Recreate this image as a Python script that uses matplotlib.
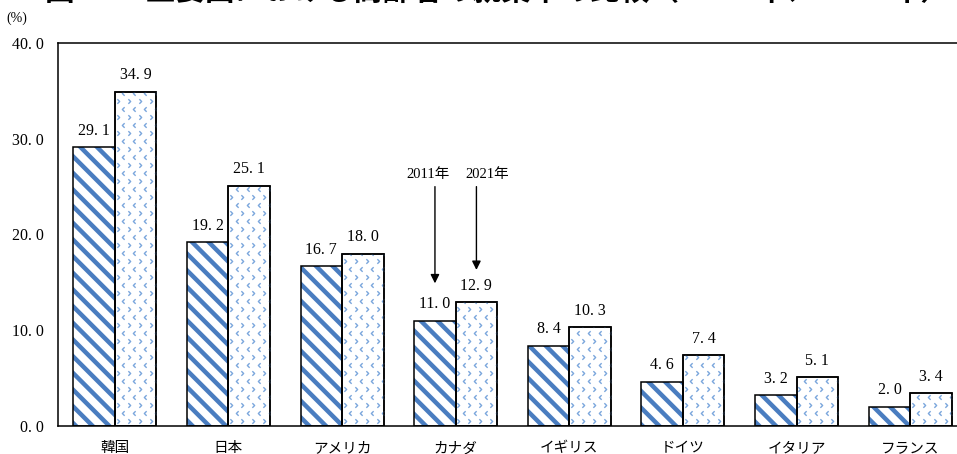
import matplotlib
matplotlib.use('Agg')
import matplotlib.pyplot as plt
import numpy as np
from matplotlib.path import Path

# --- data -------------------------------------------------------------
countries = ['韓国', '日本', 'アメリカ', 'カナダ', 'イギリス', 'ドイツ', 'イタリア', 'フランス']
rate_2011 = [29.1, 19.2, 16.7, 11.0, 8.4, 4.6, 3.2, 2.0]
rate_2021 = [34.9, 25.1, 18.0, 12.9, 10.3, 7.4, 5.1, 3.4]
y_ticks = [0, 10, 20, 30, 40]
series_labels = ['2011年', '2021年']
title_text = '図 12　主要国における高齢者の就業率の比較（2011 年、2021 年）'
unit_text = '(%)'

# --- style ------------------------------------------------------------
SERIF = ['Liberation Serif', 'Noto Sans CJK JP']
JP = ['Noto Sans CJK JP', 'DejaVu Sans']
STRIPE = '#4a7dc0'
DOTS = '#7aa6dc'
plt.rcParams['hatch.linewidth'] = 3.2


def fmt(v):
    return f'{v:.1f}'.replace('.', '. ')


W, H = 957, 454
fig = plt.figure(figsize=(W / 100, H / 100), dpi=100)
left_px, top_px, base_px, width_px = 58, 43, 426, 909
ax = fig.add_axes([left_px / W, (H - base_px) / H, width_px / W, (base_px - top_px) / H])

x = np.arange(len(countries))
bw = 0.365
x11 = x - bw / 2
x21 = x + bw / 2

# 2011: diagonal stripes
ax.bar(x11, rate_2011, bw, facecolor='white', edgecolor=STRIPE, linewidth=0,
       hatch='\\\\', zorder=2)
ax.bar(x11, rate_2011, bw, fill=False, edgecolor='black', linewidth=1.1, zorder=3)

# 2021: small chevron pattern clipped to each bar
bars21 = ax.bar(x21, rate_2021, bw, facecolor='white', edgecolor='black',
                linewidth=1.1, zorder=2)
left_chev = Path([(0.5, 1), (-0.5, 0), (0.5, -1)], [Path.MOVETO, Path.LINETO, Path.LINETO])
right_chev = Path([(-0.5, 1), (0.5, 0), (-0.5, -1)], [Path.MOVETO, Path.LINETO, Path.LINETO])
dx = 11.0 / 113.6
dy = 8.0 / 9.575
for xc, val, rect in zip(x21, rate_2021, bars21):
    nrows = int(val / dy) + 2
    for r in range(nrows):
        yr = (r + 0.6) * dy
        off = (r % 2) * dx / 2
        xs = np.arange(xc - bw / 2 + dx * 0.25 + off, xc + bw / 2, dx)
        marker = left_chev if r % 2 else right_chev
        ln, = ax.plot(xs, np.full_like(xs, yr), linestyle='none', marker=marker,
                      markersize=3.3, markerfacecolor='none', markeredgecolor=DOTS,
                      markeredgewidth=1.0, zorder=2.5)
        ln.set_clip_path(rect)
ax.bar(x21, rate_2021, bw, fill=False, edgecolor='black', linewidth=1.1, zorder=3)

# value labels
for xs_, vals in ((x11, rate_2011), (x21, rate_2021)):
    for xi, v in zip(xs_, vals):
        ax.annotate(fmt(v), (xi, v), xytext=(0, 9), textcoords='offset points',
                    ha='center', va='baseline', fontsize=11.5, family=SERIF, zorder=4)

# year pointers above Canada
ci = countries.index('カナダ')
label_pos = [(ci - 0.243, 26.3), (ci + 0.276, 26.3)]
tips = [rate_2011[ci] + 3.9, rate_2021[ci] + 3.4]
for (lx, ly), xb, tip, lab in zip(label_pos, (x11[ci], x21[ci]), tips, series_labels):
    ax.text(lx, ly, lab, ha='center', va='center', fontsize=10.5, family=SERIF)
    ax.annotate('', xy=(xb, tip), xytext=(xb, 25.0),
                arrowprops=dict(arrowstyle='-|>', color='black', lw=1.0,
                                mutation_scale=13, shrinkA=0, shrinkB=0))

# axes
ax.set_xlim(-0.5, len(countries) - 0.5)
ax.set_ylim(y_ticks[0], y_ticks[-1])
ax.set_yticks(y_ticks)
ax.set_yticklabels([fmt(t) for t in y_ticks], family=SERIF, fontsize=11.5)
ax.set_xticks(x)
ax.set_xticklabels(countries, family=JP, fontsize=10.5)
ax.tick_params(axis='y', length=0, pad=10)
ax.tick_params(axis='x', length=0, pad=11)
for s in ax.spines.values():
    s.set_color('black')
    s.set_linewidth(1.1)

fig.text(17 / W, 1 - 18 / H, unit_text, ha='center', va='center', fontsize=10,
         family=SERIF)
fig.text(45 / W, 1 + 9.5 / H, title_text, ha='left', va='center', fontsize=21.3,
         fontweight='bold', family=JP)

fig.savefig('out.png', dpi=100)
